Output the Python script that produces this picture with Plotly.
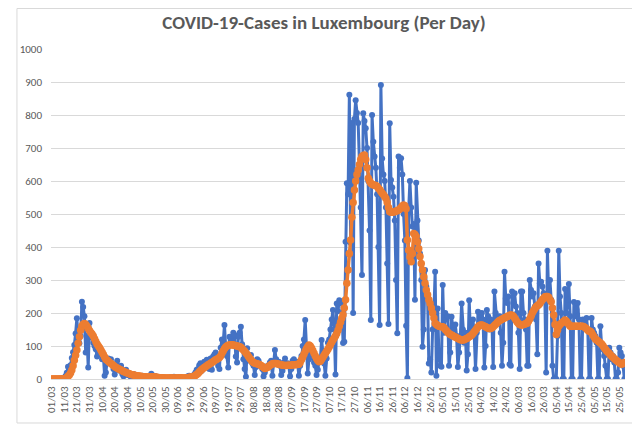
import plotly.graph_objects as go
import pandas as pd

# first day of the series; one value per day after that
start_date = "2020-03-01"

# daily new cases, one row per week (Sun..Sat)
daily_cases = [
    0, 0, 0, 1, 0, 1, 1,
    0, 2, 2, 2, 9, 19, 37,
    26, 42, 64, 81, 103, 138, 184,
    125, 108, 130, 234, 218, 190, 80,
    130, 35, 170, 140, 125, 110, 100,
    90, 68, 75, 95, 80, 60, 70,
    10, 20, 55, 62, 48, 60, 45,
    30, 14, 40, 55, 35, 25, 40,
    15, 8, 20, 28, 12, 18, 10,
    5, 7, 15, 12, 9, 8, 10,
    4, 3, 10, 7, 8, 5, 6,
    2, 4, 16, 11, 3, 9, 5,
    2, 1, 4, 6, 5, 3, 4,
    1, 0, 3, 5, 4, 2, 7,
    1, 0, 5, 3, 6, 4, 2,
    1, 2, 6, 8, 10, 5, 9,
    3, 14, 20, 28, 30, 42, 48,
    25, 45, 52, 38, 58, 50, 30,
    62, 28, 68, 74, 80, 58, 40,
    30, 95, 120, 110, 164, 95, 70,
    35, 128, 120, 115, 140, 133, 68,
    50, 128, 140, 158, 105, 60, 30,
    7, 93, 62, 55, 73, 48, 40,
    12, 36, 60, 55, 45, 38, 30,
    8, 20, 38, 35, 42, 50, 55,
    10, 45, 88, 60, 48, 52, 40,
    12, 25, 50, 62, 45, 48, 40,
    8, 30, 55, 60, 48, 52, 45,
    10, 40, 70, 100, 120, 179, 95,
    17, 60, 85, 70, 65, 50, 40,
    12, 28, 55, 60, 118, 70, 47,
    10, 62, 110, 120, 150, 180, 209,
    150, 14, 229, 205, 239, 230, 235,
    109, 113, 416, 593, 560, 861, 412,
    776, 200, 788, 845, 806, 776, 650,
    520, 315, 805, 782, 760, 700, 600,
    450, 179, 800, 719, 674, 640, 560,
    400, 164, 891, 668, 620, 600, 520,
    350, 167, 775, 603, 580, 552, 480,
    300, 139, 674, 640, 669, 620, 500,
    420, 161, 3, 512, 600, 520, 462,
    470, 240, 595, 480, 420, 380, 300,
    98, 150, 330, 280, 250, 47, 60,
    20, 150, 200, 325, 10, 214, 71,
    40, 37, 285, 140, 200, 180, 190,
    40, 80, 189, 160, 150, 165, 130,
    36, 80, 130, 229, 150, 110, 140,
    26, 75, 239, 140, 150, 180, 130,
    30, 140, 204, 160, 194, 200, 180,
    35, 100, 209, 190, 150, 180, 170,
    36, 265, 200, 170, 180, 190, 140,
    40, 110, 325, 244, 230, 250, 45,
    40, 265, 230, 260, 220, 200, 140,
    30, 265, 265, 200, 180, 150, 40,
    40, 300, 270, 250, 260, 220, 180,
    75, 350, 290, 295, 280, 260, 240,
    20, 389, 250, 300, 240, 40, 0,
    0, 0, 130, 389, 250, 200, 0,
    0, 273, 200, 240, 288, 190, 0,
    0, 233, 190, 210, 230, 180, 0,
    0, 180, 170, 160, 185, 150, 0,
    0, 185, 150, 140, 130, 110, 0,
    0, 160, 100, 90, 70, 40, 0,
    0, 95, 80, 60, 70, 50, 0,
    0, 20, 95, 80, 70, 40, 0,
]

# 7-day average as drawn (orange), same weekly rows
avg_7day = [
    0, 0, 0, 0, 0, 0, 0,
    0, 1, 1, 1, 2, 4, 8,
    12, 18, 27, 40, 57, 72, 88,
    108, 128, 148, 160, 166, 168, 165,
    160, 153, 147, 141, 136, 130, 122,
    114, 106, 100, 95, 88, 81, 74,
    67, 60, 57, 54, 50, 47, 44,
    41, 38, 35, 33, 31, 29, 27,
    25, 23, 21, 20, 18, 17, 15,
    14, 13, 12, 11, 10, 10, 9,
    8, 8, 7, 7, 6, 6, 6,
    6, 6, 7, 7, 6, 6, 5,
    5, 4, 4, 4, 4, 3, 3,
    3, 3, 3, 3, 3, 3, 3,
    3, 3, 3, 3, 4, 4, 3,
    3, 3, 4, 4, 5, 5, 6,
    7, 8, 11, 14, 17, 21, 25,
    29, 32, 35, 37, 40, 43, 45,
    48, 50, 52, 55, 58, 60, 62,
    65, 70, 78, 85, 92, 97, 100,
    102, 103, 104, 104, 103, 102, 101,
    100, 99, 98, 96, 92, 88, 84,
    79, 74, 68, 63, 58, 53, 50,
    48, 47, 46, 45, 43, 41, 38,
    35, 32, 33, 35, 38, 41, 44,
    46, 47, 47, 47, 46, 45, 44,
    43, 42, 42, 41, 41, 42, 42,
    42, 42, 43, 43, 43, 44, 44,
    45, 50, 58, 66, 75, 84, 92,
    98, 103, 100, 94, 86, 78, 70,
    62, 56, 52, 54, 60, 66, 72,
    78, 84, 90, 97, 104, 111, 118,
    124, 130, 138, 148, 160, 172, 184,
    195, 215, 240, 290, 330, 380, 421,
    490, 535, 573, 600, 620, 633, 650,
    665, 674, 677, 679, 665, 640, 608,
    600, 593, 590, 588, 587, 586, 583,
    578, 574, 568, 563, 558, 553, 547,
    535, 520, 507, 505, 505, 506, 507,
    509, 510, 512, 515, 520, 524, 527,
    525, 516, 421, 390, 370, 355, 380,
    441, 438, 432, 415, 395, 371, 350,
    330, 310, 290, 270, 255, 240, 229,
    215, 200, 185, 169, 165, 162, 160,
    159, 158, 158, 155, 150, 146, 142,
    138, 135, 133, 131, 129, 127, 125,
    123, 121, 119, 118, 118, 119, 121,
    123, 125, 128, 130, 133, 138, 143,
    148, 153, 158, 162, 164, 164, 162,
    160, 158, 156, 154, 153, 153, 155,
    158, 162, 166, 170, 174, 177, 179,
    181, 183, 185, 187, 189, 191, 193,
    194, 193, 190, 185, 179, 173, 168,
    165, 164, 164, 165, 166, 168, 169,
    175, 182, 190, 200, 207, 213, 219,
    222, 224, 229, 235, 240, 245, 249,
    250, 250, 248, 240, 234, 215, 194,
    165, 135, 148, 160, 165, 169, 172,
    175, 179, 175, 170, 165, 160, 160,
    160, 160, 160, 160, 160, 160, 160,
    160, 160, 158, 155, 152, 148, 145,
    145, 140, 133, 127, 121, 118, 115,
    112, 109, 106, 101, 95, 90, 85,
    81, 77, 73, 69, 65, 61, 58,
    55, 52, 49, 46, 45, 47, 50,
]

dates = pd.date_range(start_date, periods=len(daily_cases), freq="D")
half_day = pd.Timedelta(hours=12)

FONT = "Calibri, Carlito, Lato, sans-serif"
GREY = "#595959"

fig = go.Figure()
fig.add_trace(go.Scatter(
    x=dates, y=daily_cases, mode="lines+markers",
    line=dict(color="#4472C4", width=3),
    marker=dict(size=6, color="#4472C4"),
    name="Cases"
))
fig.add_trace(go.Scatter(
    x=dates, y=avg_7day, mode="lines+markers",
    line=dict(color="#ED7D31", width=3.5),
    marker=dict(size=7.5, color="#ED7D31"),
    name="7-day average"
))

# the page body adds an 8px margin, so the figure is 8px smaller
fig.update_layout(
    width=632, height=417,
    margin=dict(l=35, r=15, t=41, b=46),
    paper_bgcolor="white", plot_bgcolor="white",
    showlegend=False,
    font=dict(family=FONT, color=GREY, size=11),
    title=dict(
        text="<b>COVID-19-Cases in Luxembourg (Per Day)</b>",
        x=0.5, xanchor="center", y=0.966, yanchor="middle",
        font=dict(family=FONT, size=19, color=GREY)
    ),
    xaxis=dict(
        type="date",
        range=[dates[0] - half_day, dates[-1] + half_day],
        tick0=dates[0], dtick=10 * 86400000,
        tickformat="%d/%m", tickangle=-90,
        showgrid=False, zeroline=False,
        showline=True, linecolor="#d9d9d9", linewidth=1,
        ticks="", ticklabelstandoff=2,
        tickfont=dict(size=11, color=GREY)
    ),
    yaxis=dict(
        range=[0, 1000], dtick=100,
        showgrid=True, gridcolor="#d9d9d9", gridwidth=1,
        zeroline=False, showline=False,
        ticks="", ticklabelstandoff=8,
        tickfont=dict(size=11, color=GREY)
    ),
)

# light chart border like the spreadsheet chart area
fig.add_shape(type="rect", xref="paper", yref="paper",
              x0=-0.0593, x1=1.0223, y0=-0.1333, y1=1.1227,
              line=dict(color="#d9d9d9", width=1), layer="below")

fig.write_html("out.html")
